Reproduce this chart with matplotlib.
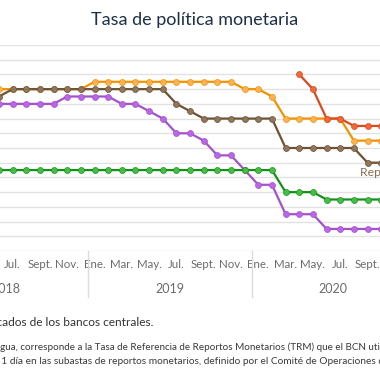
import numpy as np
import matplotlib.pyplot as plt

plt.rcParams['font.family'] = ['Lato', 'DejaVu Sans']

# meses: indice 0 = ene-2018 ... 35 = dic-2020
mes_etiquetas = ["Ene.", "Mar.", "May.", "Jul.", "Sept.", "Nov."]
anios = ["2018", "2019", "2020"]

# series mensuales desde jun-2018 (indice 5) hasta oct-2020
inicio = 5
costa_rica = [5.0, 5.0, 5.0, 5.0, 5.0, 5.25, 5.25, 5.25, 5.25, 5.0, 5.0, 4.75, 4.5, 4.0,
              4.0, 3.75, 3.25, 3.25, 2.75, 2.25, 2.25, 1.25, 1.25, 1.25, 0.75, 0.75, 0.75,
              0.75, 0.75]
guatemala = [2.75] * 21 + [2.0, 2.0, 2.0, 1.75, 1.75, 1.75, 1.75, 1.75]
honduras = [5.5] * 7 + [5.75] * 11 + [5.5, 5.5, 5.25, 4.5, 4.5, 4.5, 4.5, 4.5,
                                      3.75, 3.75, 3.75]
rep_dominicana = [5.25] + [5.5] * 12 + [5.0, 4.75, 4.5, 4.5, 4.5, 4.5, 4.5, 4.5,
                                        3.5, 3.5, 3.5, 3.5, 3.5, 3.5, 3.0, 3.0]
# Nicaragua (TRM) desde abr-2020
inicio_nic = 27
nicaragua = [6.0, 5.5, 4.5, 4.5, 4.25, 4.25, 4.25]

series = [
    (costa_rica, inicio, '#a452c9', '#bb66e6'),
    (guatemala, inicio, '#15911a', '#45be45'),
    (honduras, inicio, '#f39200', '#fbb255'),
    (rep_dominicana, inicio, '#6d5233', '#8f765f'),
    (nicaragua, inicio_nic, '#d84a1f', '#f0683c'),
]

W = 380
fig = plt.figure(figsize=(3.8, 3.8), dpi=100)
# el grafico original esta recortado: los ejes salen del lienzo por ambos lados
ax = fig.add_axes([-76.1 / W, 129 / W, 491.4 / W, 206 / W])

for i, (valores, ini, linea, relleno) in enumerate(series):
    x = np.arange(ini, ini + len(valores))
    ax.plot(x, valores, color=linea, lw=1.6, marker='o', ms=4.3,
            mfc=relleno, mec=linea, mew=0.5, zorder=3 + i)

ax.set_xlim(-0.5, 35.5)
ax.set_ylim(0, 7)
ax.set_yticks(np.arange(0, 7.01, 0.5))
ax.grid(axis='y', color='#e2e2e2', lw=1)
ax.set_axisbelow(True)
for s in ax.spines.values():
    s.set_visible(False)
ax.tick_params(left=False, labelleft=False)

ax.set_xticks(range(0, 36, 2))
ax.set_xticklabels(mes_etiquetas * 3)
ax.tick_params(axis='x', length=0, pad=5.5, labelsize=8.3, labelcolor='#6b6b6b')

tr = ax.get_xaxis_transform()
for k, anio in enumerate(anios):
    ax.text(5.5 + 12 * k, -0.185, anio, transform=tr, ha='center', va='center',
            fontsize=9, color='#6b6b6b')
for xs in [11.5, 23.5]:
    ax.plot([xs, xs], [0, -0.225], transform=tr, color='#dcdcdc', lw=1, clip_on=False)

ax.text(31.45, 2.68, "Rep. Dominicana", color='#8a6d52', fontsize=8.8, va='center')

fig.text(0.513, (W - 24.5) / W, "Tasa de política monetaria", ha='center',
         va='baseline', fontsize=13, color='#1e2f46')

# notas al pie, tambien recortadas por la izquierda
r = fig.canvas.get_renderer()


def texto_recortado(prefijo, resto, x_px, y_px, **kw):
    t = fig.text(0, 0, prefijo, **kw)
    ancho = t.get_window_extent(r).width
    t.remove()
    fig.text((x_px - ancho) / W, (W - y_px) / W, prefijo + resto, va='baseline', **kw)


fig.text(153.5 / W, (W - 326.5) / W,
         "Fuente: elaboración propia con base en comunicados de los bancos centrales.",
         ha='right', va='baseline', fontsize=8.6, color='#333333')
texto_recortado("Nota: en el caso de Nicara",
                "gua, corresponde a la Tasa de Referencia de Reportos Monetarios (TRM) "
                "que el BCN utiliza como señal de política monetaria,",
                0.3, 350, fontsize=7.15, color='#3a3a3a')
texto_recortado("y que representa el costo de las operaciones a ",
                "1 día en las subastas de reportos monetarios, definido por el Comité "
                "de Operaciones de Mercado Abierto (COMA).",
                1.5, 363.5, fontsize=7.25, color='#3a3a3a')

fig.savefig("out.png", dpi=100)
